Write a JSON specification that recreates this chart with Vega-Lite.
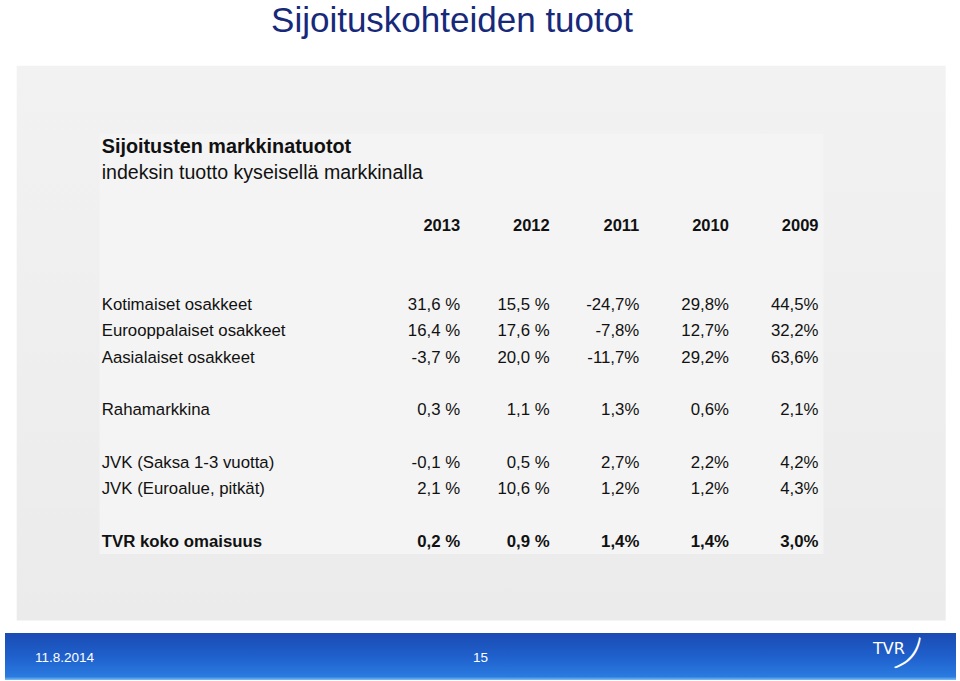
{
  "$schema": "https://vega.github.io/schema/vega-lite/v6.json",
  "width": 960,
  "height": 681,
  "autosize": {"type": "fit", "contains": "padding"},
  "padding": 0,
  "background": "#ffffff",
  "config": {"view": {"stroke": null}, "text": {"font": "Liberation Sans"}},
  "datasets": {
    "returns": [
      {"item": "Kotimaiset osakkeet", "year": "2013", "value": 31.6, "text": "31,6 %"},
      {"item": "Kotimaiset osakkeet", "year": "2012", "value": 15.5, "text": "15,5 %"},
      {"item": "Kotimaiset osakkeet", "year": "2011", "value": -24.7, "text": "-24,7%"},
      {"item": "Kotimaiset osakkeet", "year": "2010", "value": 29.8, "text": "29,8%"},
      {"item": "Kotimaiset osakkeet", "year": "2009", "value": 44.5, "text": "44,5%"},
      {"item": "Eurooppalaiset osakkeet", "year": "2013", "value": 16.4, "text": "16,4 %"},
      {"item": "Eurooppalaiset osakkeet", "year": "2012", "value": 17.6, "text": "17,6 %"},
      {"item": "Eurooppalaiset osakkeet", "year": "2011", "value": -7.8, "text": "-7,8%"},
      {"item": "Eurooppalaiset osakkeet", "year": "2010", "value": 12.7, "text": "12,7%"},
      {"item": "Eurooppalaiset osakkeet", "year": "2009", "value": 32.2, "text": "32,2%"},
      {"item": "Aasialaiset osakkeet", "year": "2013", "value": -3.7, "text": "-3,7 %"},
      {"item": "Aasialaiset osakkeet", "year": "2012", "value": 20.0, "text": "20,0 %"},
      {"item": "Aasialaiset osakkeet", "year": "2011", "value": -11.7, "text": "-11,7%"},
      {"item": "Aasialaiset osakkeet", "year": "2010", "value": 29.2, "text": "29,2%"},
      {"item": "Aasialaiset osakkeet", "year": "2009", "value": 63.6, "text": "63,6%"},
      {"item": "Rahamarkkina", "year": "2013", "value": 0.3, "text": "0,3 %"},
      {"item": "Rahamarkkina", "year": "2012", "value": 1.1, "text": "1,1 %"},
      {"item": "Rahamarkkina", "year": "2011", "value": 1.3, "text": "1,3%"},
      {"item": "Rahamarkkina", "year": "2010", "value": 0.6, "text": "0,6%"},
      {"item": "Rahamarkkina", "year": "2009", "value": 2.1, "text": "2,1%"},
      {"item": "JVK (Saksa 1-3 vuotta)", "year": "2013", "value": -0.1, "text": "-0,1 %"},
      {"item": "JVK (Saksa 1-3 vuotta)", "year": "2012", "value": 0.5, "text": "0,5 %"},
      {"item": "JVK (Saksa 1-3 vuotta)", "year": "2011", "value": 2.7, "text": "2,7%"},
      {"item": "JVK (Saksa 1-3 vuotta)", "year": "2010", "value": 2.2, "text": "2,2%"},
      {"item": "JVK (Saksa 1-3 vuotta)", "year": "2009", "value": 4.2, "text": "4,2%"},
      {"item": "JVK (Euroalue, pitkät)", "year": "2013", "value": 2.1, "text": "2,1 %"},
      {"item": "JVK (Euroalue, pitkät)", "year": "2012", "value": 10.6, "text": "10,6 %"},
      {"item": "JVK (Euroalue, pitkät)", "year": "2011", "value": 1.2, "text": "1,2%"},
      {"item": "JVK (Euroalue, pitkät)", "year": "2010", "value": 1.2, "text": "1,2%"},
      {"item": "JVK (Euroalue, pitkät)", "year": "2009", "value": 4.3, "text": "4,3%"},
      {"item": "TVR koko omaisuus", "year": "2013", "value": 0.2, "text": "0,2 %"},
      {"item": "TVR koko omaisuus", "year": "2012", "value": 0.9, "text": "0,9 %"},
      {"item": "TVR koko omaisuus", "year": "2011", "value": 1.4, "text": "1,4%"},
      {"item": "TVR koko omaisuus", "year": "2010", "value": 1.4, "text": "1,4%"},
      {"item": "TVR koko omaisuus", "year": "2009", "value": 3.0, "text": "3,0%"}
    ],
    "headings": [
      {"line": "heading", "text": "Sijoitusten markkinatuotot"},
      {"line": "subheading", "text": "indeksin tuotto kyseisellä markkinalla"}
    ],
    "slide": [
      {"title": "Sijoituskohteiden tuotot", "date": "11.8.2014", "page": "15", "logo": "TVR"}
    ]
  },
  "layer": [
    {
      "data": {"name": "slide"},
      "layer": [
        {
          "mark": {"type": "rect", "fill": {"gradient": "linear", "x1": 0, "y1": 0, "x2": 0, "y2": 1, "stops": [{"offset": 0, "color": "#f2f2f2"}, {"offset": 1, "color": "#ebebeb"}]}},
          "encoding": {
            "x": {"datum": 16.7, "type": "quantitative", "scale": {"domain": [0, 960], "nice": false, "zero": false}, "axis": null},
            "x2": {"datum": 945.7},
            "y": {"datum": 65.7, "type": "quantitative", "scale": {"domain": [0, 681], "nice": false, "zero": false, "reverse": true}, "axis": null},
            "y2": {"datum": 620.5}
          }
        },
        {
          "mark": {"type": "rect", "fill": "#f4f4f4"},
          "encoding": {
            "x": {"datum": 99.5, "type": "quantitative"},
            "x2": {"datum": 823.5},
            "y": {"datum": 133.5, "type": "quantitative"},
            "y2": {"datum": 554}
          }
        },
        {
          "mark": {"type": "rect", "fill": {"gradient": "linear", "x1": 0, "y1": 0, "x2": 0, "y2": 1, "stops": [{"offset": 0, "color": "#1a4bb2"}, {"offset": 0.5, "color": "#1f60cc"}, {"offset": 0.93, "color": "#2a7be0"}, {"offset": 1, "color": "#7cc0f4"}]}},
          "encoding": {
            "x": {"datum": 5, "type": "quantitative"},
            "x2": {"datum": 956},
            "y": {"datum": 633, "type": "quantitative"},
            "y2": {"datum": 680}
          }
        },
        {
          "mark": {"type": "text", "fontSize": 35, "color": "#16297a", "align": "center", "baseline": "middle"},
          "encoding": {
            "x": {"datum": 452, "type": "quantitative"},
            "y": {"datum": 21, "type": "quantitative"},
            "text": {"field": "title"}
          }
        },
        {
          "mark": {"type": "text", "fontSize": 13.5, "color": "#ffffff", "align": "left", "baseline": "middle"},
          "encoding": {
            "x": {"datum": 35, "type": "quantitative"},
            "y": {"datum": 657.5, "type": "quantitative"},
            "text": {"field": "date"}
          }
        },
        {
          "mark": {"type": "text", "fontSize": 13.5, "color": "#ffffff", "align": "center", "baseline": "middle"},
          "encoding": {
            "x": {"datum": 480.5, "type": "quantitative"},
            "y": {"datum": 657.5, "type": "quantitative"},
            "text": {"field": "page"}
          }
        },
        {
          "mark": {"type": "text", "fontSize": 16, "font": "DejaVu Sans", "color": "#ffffff", "align": "center", "baseline": "middle"},
          "encoding": {
            "x": {"datum": 889, "type": "quantitative"},
            "y": {"datum": 649, "type": "quantitative"},
            "text": {"field": "logo"}
          }
        },
        {
          "mark": {"type": "text", "fontSize": 44, "font": "DejaVu Sans", "fontWeight": 300, "color": "#ffffff", "align": "center", "baseline": "middle", "angle": 40, "text": ")"},
          "encoding": {
            "x": {"datum": 909, "type": "quantitative"},
            "y": {"datum": 655, "type": "quantitative"}
          }
        }
      ]
    },
    {
      "layer": [
        {
          "data": {"name": "headings"},
          "transform": [{"filter": "datum.line === 'heading'"}],
          "mark": {"type": "text", "align": "left", "baseline": "middle", "fontSize": 19.8, "fontWeight": "bold", "color": "#111111"},
          "encoding": {
            "x": {"datum": "label", "type": "nominal", "scale": {"type": "point", "domain": ["label", "g1", "g2", "g3", "2013", "2012", "2011", "2010", "2009"], "range": [101.7, 818.5], "padding": 0}, "axis": null},
            "y": {"field": "line", "type": "nominal", "scale": {"type": "point", "domain": ["heading", "subheading", "gap1", "header", "gap2", "gap3", "Kotimaiset osakkeet", "Eurooppalaiset osakkeet", "Aasialaiset osakkeet", "gap4", "Rahamarkkina", "gap5", "JVK (Saksa 1-3 vuotta)", "JVK (Euroalue, pitkät)", "gap6", "TVR koko omaisuus"], "range": [147, 542], "padding": 0}, "axis": null},
            "text": {"field": "text"}
          }
        },
        {
          "data": {"name": "headings"},
          "transform": [{"filter": "datum.line === 'subheading'"}],
          "mark": {"type": "text", "align": "left", "baseline": "middle", "fontSize": 19.6, "color": "#111111"},
          "encoding": {
            "x": {"datum": "label", "type": "nominal"},
            "y": {"field": "line", "type": "nominal"},
            "text": {"field": "text"}
          }
        },
        {
          "data": {"name": "returns"},
          "transform": [{"filter": "datum.item === 'Kotimaiset osakkeet'"}],
          "mark": {"type": "text", "align": "right", "baseline": "middle", "fontSize": 16.5, "fontWeight": "bold", "color": "#111111"},
          "encoding": {
            "x": {"field": "year", "type": "nominal"},
            "y": {"datum": "header", "type": "nominal"},
            "text": {"field": "year"}
          }
        },
        {
          "data": {"name": "returns"},
          "transform": [{"filter": "datum.year === '2013' && datum.item !== 'TVR koko omaisuus'"}],
          "mark": {"type": "text", "align": "left", "baseline": "middle", "fontSize": 16.8, "color": "#111111"},
          "encoding": {
            "x": {"datum": "label", "type": "nominal"},
            "y": {"field": "item", "type": "nominal"},
            "text": {"field": "item"}
          }
        },
        {
          "data": {"name": "returns"},
          "transform": [{"filter": "datum.item !== 'TVR koko omaisuus'"}],
          "mark": {"type": "text", "align": "right", "baseline": "middle", "fontSize": 16.8, "color": "#111111"},
          "encoding": {
            "x": {"field": "year", "type": "nominal"},
            "y": {"field": "item", "type": "nominal"},
            "text": {"field": "text"}
          }
        },
        {
          "data": {"name": "returns"},
          "transform": [{"filter": "datum.year === '2013' && datum.item === 'TVR koko omaisuus'"}],
          "mark": {"type": "text", "align": "left", "baseline": "middle", "fontSize": 16.8, "fontWeight": "bold", "color": "#111111"},
          "encoding": {
            "x": {"datum": "label", "type": "nominal"},
            "y": {"field": "item", "type": "nominal"},
            "text": {"field": "item"}
          }
        },
        {
          "data": {"name": "returns"},
          "transform": [{"filter": "datum.item === 'TVR koko omaisuus'"}],
          "mark": {"type": "text", "align": "right", "baseline": "middle", "fontSize": 16.8, "fontWeight": "bold", "color": "#111111"},
          "encoding": {
            "x": {"field": "year", "type": "nominal"},
            "y": {"field": "item", "type": "nominal"},
            "text": {"field": "text"}
          }
        }
      ]
    }
  ],
  "resolve": {"scale": {"x": "independent", "y": "independent"}}
}
